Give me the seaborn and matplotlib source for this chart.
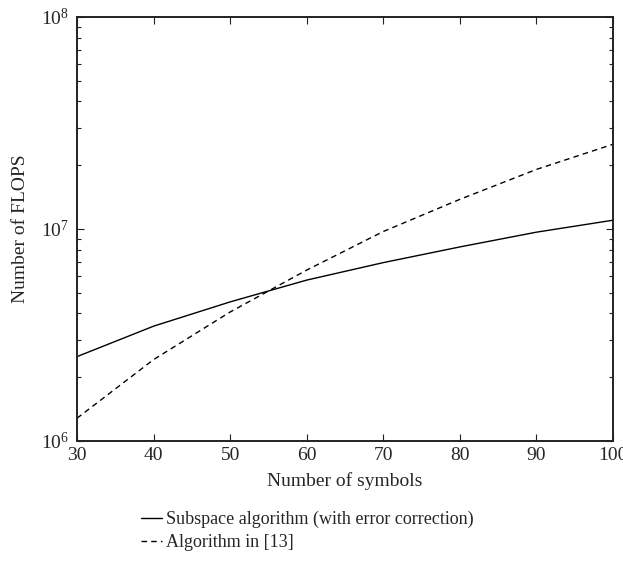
import pandas as pd
import matplotlib
matplotlib.use("Agg")
import matplotlib.pyplot as plt
import seaborn as sns

# values (log scale)
symbols = [30, 40, 50, 60, 70, 80, 90, 100]
flops_subspace = [2.50e6, 3.48e6, 4.53e6, 5.74e6, 6.94e6, 8.23e6, 9.66e6, 1.10e7]
flops_ref13 = [1.28e6, 2.42e6, 4.06e6, 6.40e6, 9.73e6, 1.38e7, 1.91e7, 2.51e7]

label_sub = "Subspace algorithm (with error correction)"
label_ref = "Algorithm in [13]"

df = pd.concat([
    pd.DataFrame({"symbols": symbols, "flops": flops_subspace, "method": label_sub}),
    pd.DataFrame({"symbols": symbols, "flops": flops_ref13, "method": label_ref}),
])

sns.set_style("ticks")
plt.rcParams["font.family"] = ["Liberation Serif", "DejaVu Serif"]
plt.rcParams["mathtext.fontset"] = "custom"
plt.rcParams["mathtext.rm"] = "Liberation Serif"
plt.rcParams["mathtext.it"] = "Liberation Serif:italic"

fig = plt.figure(figsize=(6.23, 5.8), dpi=100)
ax = fig.add_axes([0.1236, 0.2397, 0.8604, 0.731])

sns.lineplot(data=df, x="symbols", y="flops", hue="method", style="method",
             palette={label_sub: "black", label_ref: "black"},
             dashes={label_sub: "", label_ref: (4, 3)},
             linewidth=1.0, ax=ax)

ax.set_yscale("log")
ax.set_xlim(30, 100)
ax.set_ylim(1e6, 1e8)
ax.set_xticks(symbols)
ax.set_xlabel("Number of symbols", fontsize=14, labelpad=6)
ax.set_ylabel("Number of FLOPS", fontsize=14, labelpad=8)

for s in ax.spines.values():
    s.set_linewidth(1.4)
    s.set_color("#222222")
ax.tick_params(which="both", direction="in", top=True, right=True,
               labelsize=14, color="#222222")
ax.tick_params(which="major", length=5, width=0.8)
ax.tick_params(which="minor", length=3, width=0.8)
ax.tick_params(axis="x", pad=4)
ax.tick_params(axis="y", pad=6)

ax.legend(loc="upper left", bbox_to_anchor=(0.226, 0.119), bbox_transform=fig.transFigure,
          frameon=False, fontsize=13, handlelength=1.15, handletextpad=0.25,
          labelspacing=0.32, borderaxespad=0, borderpad=0)

fig.savefig("out.png", dpi=100)
